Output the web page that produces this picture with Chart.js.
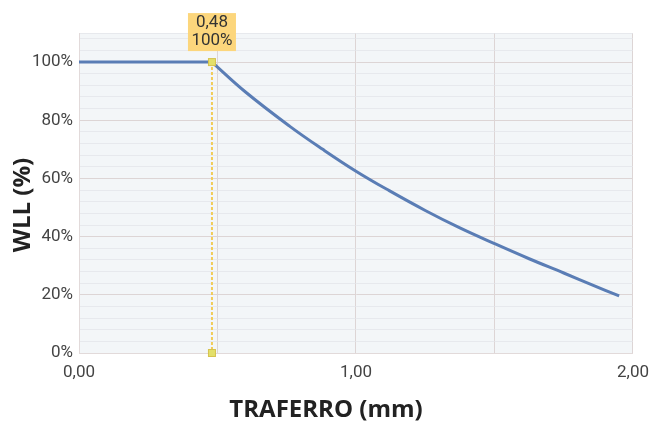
<!DOCTYPE html>
<html>
<head>
<meta charset="utf-8">
<script src="https://cdn.jsdelivr.net/npm/chart.js@4/dist/chart.umd.min.js"></script>
<style>
  html, body { margin: 0; padding: 0; background: #fff; }
  #wrap { width: 659px; height: 423px; }
</style>
</head>
<body>
<div id="wrap"><canvas id="wllChart" width="659" height="423"></canvas></div>
<script>
// Tratto piatto e curva di decadimento (traferro mm -> WLL %)
const flatX  = [0, 0.48];
const flatY  = [100, 100];
const curveX = [0.48, 0.6, 0.76, 0.88, 1.0, 1.12, 1.25, 1.375, 1.5, 1.625, 1.75, 1.85, 1.95];
const curveY = [100, 89.8, 78, 70, 62.5, 55.8, 49, 43, 37.6, 32.4, 27.5, 23.5, 19.6];

// Punto evidenziato
const markX = 0.48;
const markY = 100;
const markLabel = ['0,48', '100%'];

const xTickLabels = { 0: '0,00', 1: '1,00', 2: '2,00' };
const yTickLabels = [0, 20, 40, 60, 80, 100];
const xTitle = 'TRAFERRO (mm)';
const yTitle = 'WLL (%)';

const toPts = (xs, ys) => xs.map((x, i) => ({ x, y: ys[i] }));

const FONT = 'Roboto, "DejaVu Sans", sans-serif';
const TITLE_FONT = 'bold 24px "Open Sans", Roboto, sans-serif';
const LINE = '#5a7db5';

// sfondo area del grafico
const bgPlugin = {
  id: 'plotBg',
  beforeDraw(chart) {
    const { ctx, chartArea: a } = chart;
    ctx.save();
    ctx.fillStyle = '#f3f6f8';
    ctx.fillRect(a.left, a.top, a.right - a.left, a.bottom - a.top);
    ctx.restore();
  }
};

// titoli degli assi (non centrati sull'area, come nell'originale)
const titlePlugin = {
  id: 'axisTitles',
  afterDraw(chart) {
    const { ctx } = chart;
    ctx.save();
    ctx.fillStyle = '#222';
    ctx.font = TITLE_FONT;
    ctx.textAlign = 'center';
    ctx.textBaseline = 'middle';
    ctx.fillText(xTitle, 326, 410);
    ctx.translate(23, 205);
    ctx.rotate(-Math.PI / 2);
    ctx.fillText(yTitle, 0, 0);
    ctx.restore();
  }
};

// linea tratteggiata gialla + etichetta del punto
const markPlugin = {
  id: 'markLine',
  afterDatasetsDraw(chart) {
    const { ctx, scales: { x, y } } = chart;
    const px = x.getPixelForValue(markX);
    const pTop = y.getPixelForValue(markY);
    const pBot = y.getPixelForValue(0);
    ctx.save();
    ctx.strokeStyle = '#f2cc58';
    ctx.lineWidth = 2;
    ctx.setLineDash([3, 2]);
    ctx.beginPath();
    ctx.moveTo(px, pTop);
    ctx.lineTo(px, pBot);
    ctx.stroke();
    ctx.setLineDash([]);
    ctx.fillStyle = '#e3e06a';
    ctx.strokeStyle = '#d6c24e';
    ctx.lineWidth = 1;
    [pTop, pBot].forEach(py => {
      ctx.fillRect(px - 3.5, py - 3.5, 7, 7);
      ctx.strokeRect(px - 3.5, py - 3.5, 7, 7);
    });
    // etichetta
    const w = 48, h = 38;
    const bx = px - w / 2, by = pTop - 49;
    ctx.fillStyle = '#fcd67c';
    ctx.fillRect(bx, by, w, h);
    ctx.fillStyle = '#333';
    ctx.font = '17px ' + FONT;
    ctx.textAlign = 'center';
    ctx.textBaseline = 'middle';
    ctx.fillText(markLabel[0], px, by + 10);
    ctx.fillText(markLabel[1], px, by + 28);
    ctx.restore();
  }
};

const ctx = document.getElementById('wllChart').getContext('2d');
new Chart(ctx, {
  type: 'line',
  data: {
    datasets: [
      { data: toPts(flatX, flatY), borderColor: LINE, borderWidth: 3, pointRadius: 0, tension: 0 },
      { data: toPts(curveX, curveY), borderColor: LINE, borderWidth: 3, pointRadius: 0, tension: 0.4 }
    ]
  },
  options: {
    responsive: false,
    animation: false,
    layout: { padding: { top: 33, right: 25, bottom: 0, left: 0 } },
    plugins: { legend: { display: false }, tooltip: { enabled: false } },
    scales: {
      x: {
        type: 'linear', min: 0, max: 2,
        border: { color: '#e2dada' },
        grid: { color: '#ddd5d5', lineWidth: 1, drawTicks: false },
        afterFit: s => { s.height = 70; },
        ticks: {
          stepSize: 0.5, padding: 10, maxRotation: 0,
          color: '#444', font: { family: FONT, size: 17 },
          callback: v => xTickLabels[v] || ''
        }
      },
      y: {
        min: 0, max: 110,
        border: { color: '#e2dada' },
        grid: {
          drawTicks: false,
          color: c => (c.tick.value % 20 === 0 ? '#ddd5d5' : 'rgba(225,228,232,0.7)')
        },
        afterFit: s => { s.width = 79; },
        afterBuildTicks: axis => {
          const t = [];
          for (let v = 0; v <= 108; v += 4) t.push({ value: v });
          t.push({ value: 110 });
          axis.ticks = t;
        },
        ticks: {
          padding: 6, autoSkip: false,
          color: '#444', font: { family: FONT, size: 17 },
          callback: v => (yTickLabels.includes(v) ? v + '%' : '')
        }
      }
    }
  },
  plugins: [bgPlugin, markPlugin, titlePlugin]
});
</script>
</body>
</html>
